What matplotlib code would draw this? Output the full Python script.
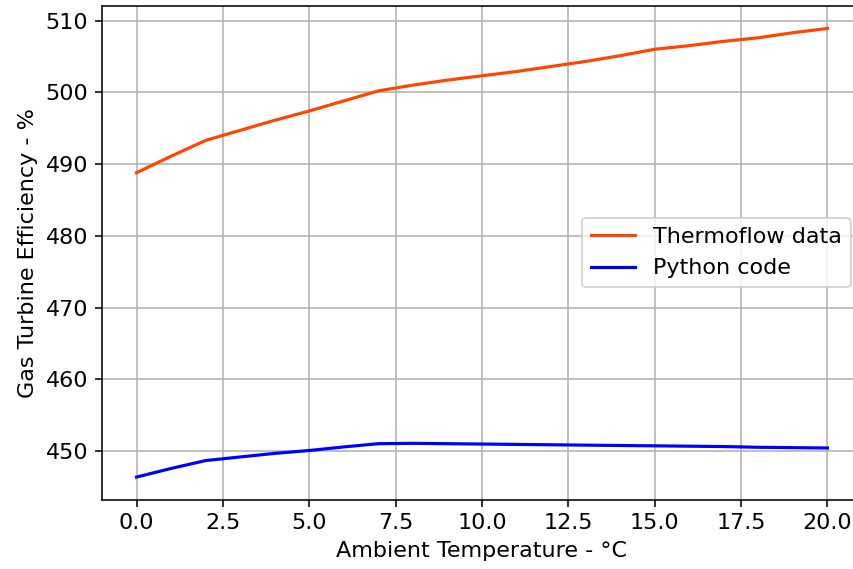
import matplotlib
matplotlib.use("Agg")
import matplotlib.pyplot as plt

ambient_temp = list(range(0, 21))
thermoflow = [488.8, 491.1, 493.3, 494.7, 496.1, 497.4, 498.8, 500.2, 501.0, 501.7,
              502.3, 502.9, 503.6, 504.3, 505.1, 506.0, 506.5, 507.1, 507.6, 508.3, 508.9]
python_code = [446.4, 447.6, 448.7, 449.2, 449.7, 450.1, 450.6, 451.05, 451.1, 451.05,
               451.0, 450.95, 450.9, 450.85, 450.8, 450.75, 450.7, 450.65, 450.55, 450.5, 450.45]

plt.rcParams["font.size"] = 11.3

W, H = 853, 569
fig = plt.figure(figsize=(W / 142.2, H / 142.2), dpi=142.2)
# the axes runs slightly past the right edge of the canvas
left, right, top, bottom = 102, 862, 6, 499.5
ax = fig.add_axes([left / W, 1 - bottom / H, (right - left) / W, (bottom - top) / H])

ax.plot(ambient_temp, thermoflow, color="orangered", lw=1.6, label="Thermoflow data")
ax.plot(ambient_temp, python_code, color="blue", lw=1.6, label="Python code")

ax.set_xlabel("Ambient Temperature - °C")
ax.set_ylabel("Gas Turbine Efficiency - %")
ax.grid(True)
ax.legend(loc="center right")

fig.savefig("out.png", dpi=142.2)
